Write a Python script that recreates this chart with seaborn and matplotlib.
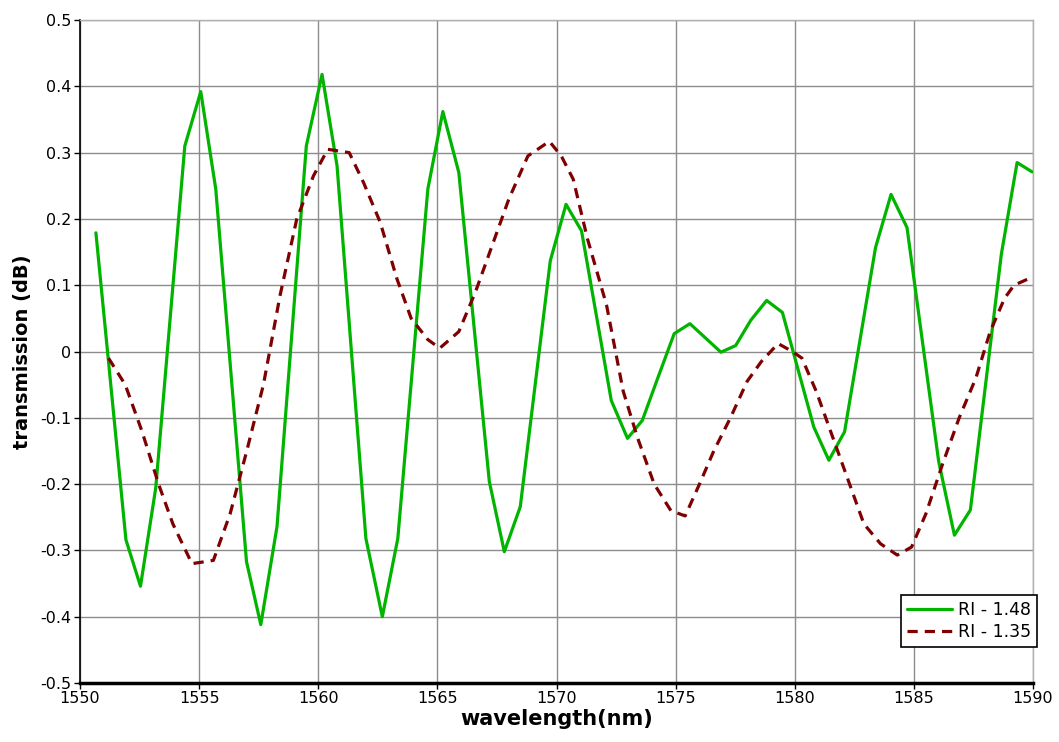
import matplotlib
matplotlib.use("Agg")
import matplotlib.pyplot as plt
import seaborn as sns
import pandas as pd

# RI - 1.48 (green, solid)
wl_148 = [1550.67, 1551.93, 1552.54, 1553.18, 1554.40, 1555.07, 1555.70, 1556.99,
          1557.59, 1558.27, 1559.50, 1560.16, 1560.79, 1562.00, 1562.69, 1563.34,
          1564.60, 1565.23, 1565.90, 1567.18, 1567.81, 1568.48, 1569.74, 1570.40,
          1571.05, 1572.30, 1572.98, 1573.60, 1574.24, 1574.94, 1575.60, 1576.90,
          1577.52, 1578.15, 1578.82, 1579.48, 1580.80, 1581.43, 1582.09, 1583.39,
          1584.04, 1584.71, 1586.04, 1586.70, 1587.37, 1588.67, 1589.33, 1589.96]
tr_148 = [0.179, -0.284, -0.354, -0.206, 0.310, 0.392, 0.245, -0.317,
          -0.412, -0.264, 0.310, 0.418, 0.280, -0.282, -0.400, -0.282,
          0.245, 0.362, 0.270, -0.196, -0.302, -0.234, 0.137, 0.222,
          0.182, -0.074, -0.131, -0.104, -0.041, 0.027, 0.042, -0.001,
          0.009, 0.047, 0.077, 0.059, -0.114, -0.164, -0.121, 0.157,
          0.237, 0.187, -0.166, -0.277, -0.239, 0.147, 0.285, 0.271]

# RI - 1.35 (dark red, dashed)
wl_135 = [1551.2, 1551.9, 1552.6, 1553.3, 1553.9, 1554.7, 1555.6, 1556.3, 1557.0,
          1557.7, 1558.4, 1559.1, 1559.8, 1560.4, 1561.3, 1561.9, 1562.6, 1563.3,
          1563.9, 1564.6, 1565.1, 1565.9, 1566.6, 1567.3, 1568.0, 1568.8, 1569.7,
          1570.2, 1570.7, 1571.3, 1572.1, 1572.8, 1573.4, 1574.1, 1574.8, 1575.4,
          1576.0, 1576.6, 1577.3, 1578.0, 1578.6, 1579.3, 1579.9, 1580.3, 1580.9,
          1581.5, 1582.2, 1582.9, 1583.6, 1584.3, 1584.9, 1585.5, 1586.2, 1586.9,
          1587.6, 1588.2, 1588.8, 1589.2, 1589.95]
tr_135 = [-0.010, -0.050, -0.120, -0.200, -0.260, -0.320, -0.315, -0.245, -0.150,
          -0.050, 0.085, 0.200, 0.265, 0.305, 0.300, 0.255, 0.195, 0.110,
          0.050, 0.018, 0.005, 0.030, 0.090, 0.160, 0.230, 0.295, 0.317,
          0.295, 0.260, 0.170, 0.070, -0.060, -0.130, -0.200, -0.240, -0.248,
          -0.200, -0.150, -0.100, -0.045, -0.015, 0.012, 0.000, -0.010, -0.060,
          -0.120, -0.190, -0.260, -0.290, -0.307, -0.295, -0.245, -0.170, -0.100,
          -0.040, 0.030, 0.080, 0.100, 0.112]

x_ticks = [1550, 1555, 1560, 1565, 1570, 1575, 1580, 1585, 1590]
y_ticks = [-0.5, -0.4, -0.3, -0.2, -0.1, 0, 0.1, 0.2, 0.3, 0.4, 0.5]
y_tick_labels = ["-0.5", "-0.4", "-0.3", "-0.2", "-0.1", "0", "0.1", "0.2", "0.3", "0.4", "0.5"]

sns.set_style("white")
plt.rcParams['font.family'] = ['DejaVu Sans']
plt.rcParams['text.color'] = 'black'
plt.rcParams['axes.labelcolor'] = 'black'
plt.rcParams['xtick.color'] = 'black'
plt.rcParams['ytick.color'] = 'black'

fig = plt.figure(figsize=(10.59, 7.42), dpi=100)
ax = fig.add_axes([0.0755, 0.0795, 0.9, 0.8935])

df1 = pd.DataFrame({"wl": wl_148, "tr": tr_148})
df2 = pd.DataFrame({"wl": wl_135, "tr": tr_135})
sns.lineplot(data=df1, x="wl", y="tr", ax=ax, color="#00B400", linewidth=2.3,
             label="RI - 1.48", sort=False, zorder=3)
sns.lineplot(data=df2, x="wl", y="tr", ax=ax, color="#7F0000", linewidth=2.3,
             linestyle=(0, (3.2, 2.2)), label="RI - 1.35", sort=False, zorder=3)

ax.set_xlim(1550, 1590)
ax.set_ylim(-0.5, 0.5)
ax.set_xticks(x_ticks)
ax.set_yticks(y_ticks)
ax.set_yticklabels(y_tick_labels)
ax.grid(True, color="#8c8c8c", linewidth=1.0, zorder=0)
ax.set_axisbelow(True)

for s in ["top", "right"]:
    ax.spines[s].set_color("#b0b0b0")
    ax.spines[s].set_linewidth(1.0)
ax.spines["left"].set_color("black")
ax.spines["left"].set_linewidth(1.2)
ax.spines["bottom"].set_color("black")
ax.spines["bottom"].set_linewidth(2.5)

ax.tick_params(axis="both", direction="out", length=4, width=1, color="black",
               labelcolor="black", labelsize=11.5, pad=2, left=True, bottom=True)

ax.set_xlabel("wavelength(nm)", fontsize=15, fontweight="bold", labelpad=2, color="black")
ax.set_ylabel("transmission (dB)", fontsize=14, fontweight="bold", labelpad=6, color="black")

leg = ax.legend(loc="upper right", bbox_to_anchor=(1.004, 0.133), fontsize=12.5,
                frameon=True, fancybox=False, edgecolor="black", framealpha=1,
                handlelength=2.6, borderpad=0.35, labelspacing=0.25, handletextpad=0.3,
                borderaxespad=0)
leg.get_frame().set_linewidth(1.2)
for t in leg.get_texts():
    t.set_color("black")

fig.savefig("out.png", dpi=100)
